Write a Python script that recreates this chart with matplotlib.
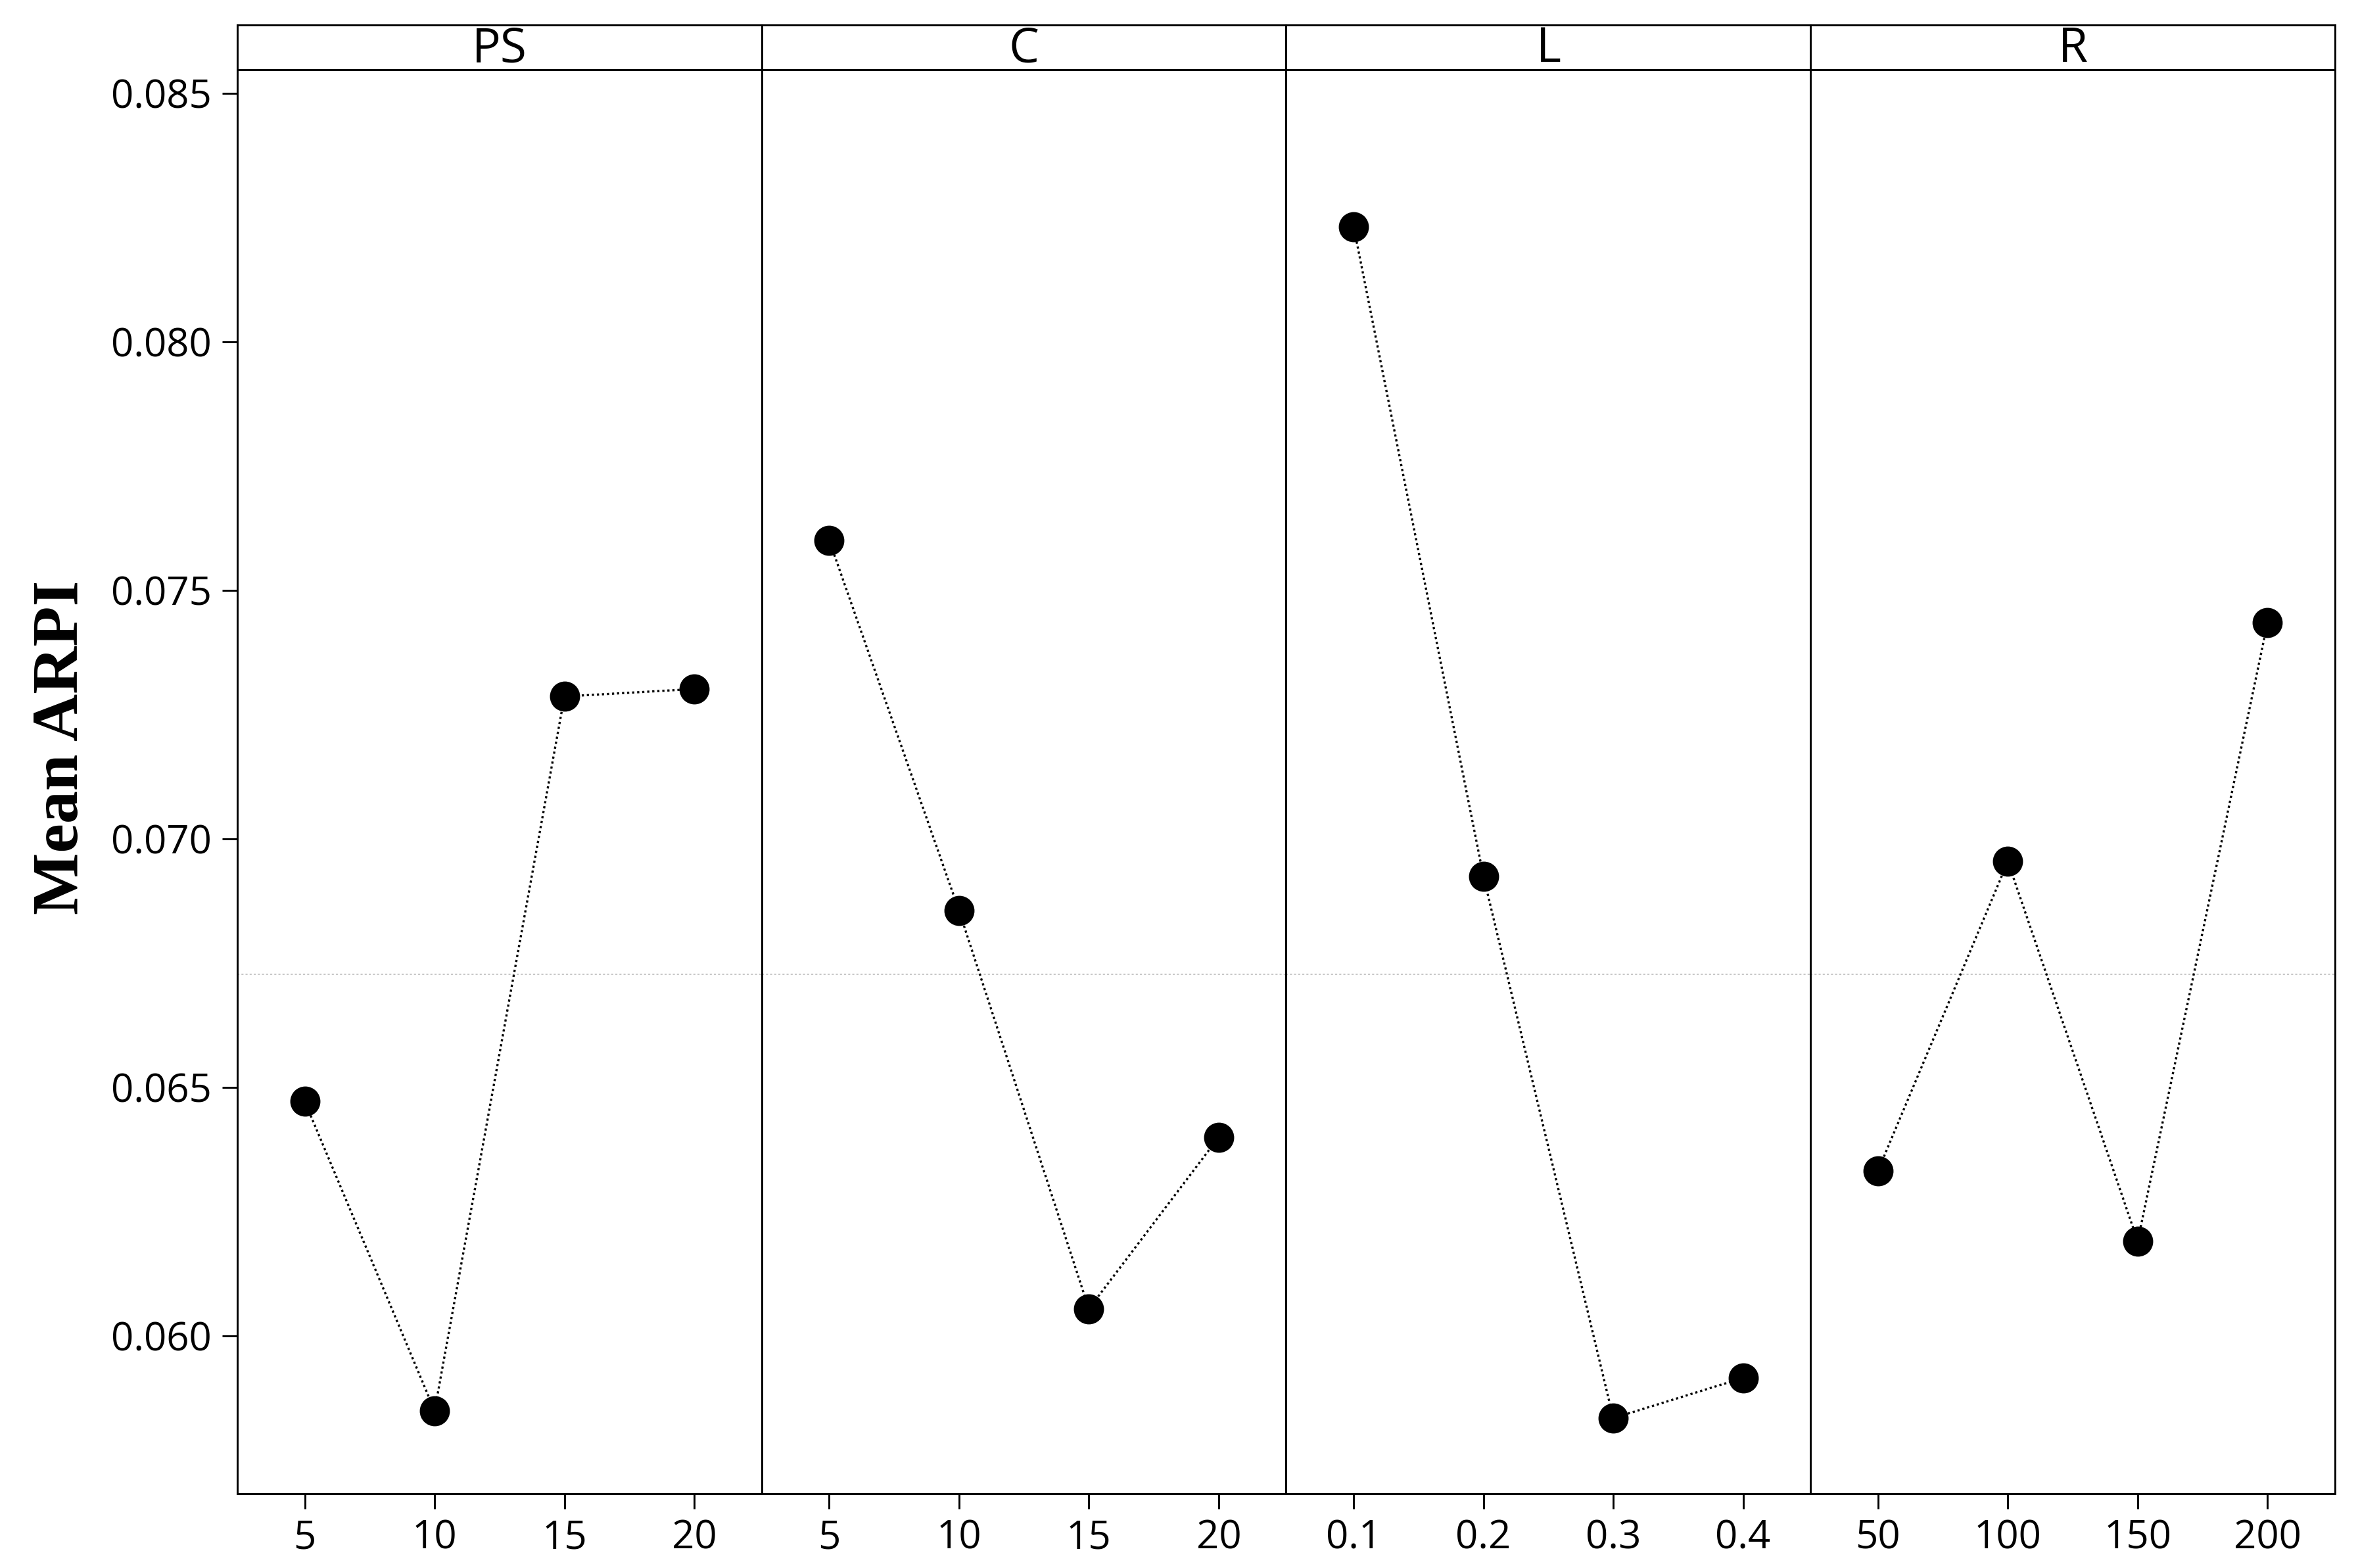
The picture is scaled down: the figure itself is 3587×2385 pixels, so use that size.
import matplotlib
matplotlib.use("Agg")
import matplotlib.pyplot as plt

# ---- data ----
factors = ["PS", "C", "L", "R"]
levels_PS = ["5", "10", "15", "20"]
levels_C = ["5", "10", "15", "20"]
levels_L = ["0.1", "0.2", "0.3", "0.4"]
levels_R = ["50", "100", "150", "200"]
means_PS = [0.06471, 0.05849, 0.07286, 0.07301]
means_C = [0.07600, 0.06855, 0.06054, 0.06399]
means_L = [0.08231, 0.06924, 0.05834, 0.05915]
means_R = [0.06332, 0.06954, 0.06190, 0.07434]
grand_mean = 0.06727
y_ticks = [0.060, 0.065, 0.070, 0.075, 0.080, 0.085]
y_tick_labels = ["0.060", "0.065", "0.070", "0.075", "0.080", "0.085"]

levels = [levels_PS, levels_C, levels_L, levels_R]
means = [means_PS, means_C, means_L, means_R]

W, H = 3587, 2385
DPI = 300
fig = plt.figure(figsize=(W / DPI, H / DPI), dpi=DPI)
fig.patch.set_facecolor("white")

TICK_FONT = "Open Sans"
left_px, right_px = 361, 3552
bottom_px, top_px = 2272, 106
strip_top_px = 38
pw = (right_px - left_px) / 4

spine_lw = 0.7
for i, (fac, lv, mv) in enumerate(zip(factors, levels, means)):
    x0 = left_px + i * pw
    ax = fig.add_axes([x0 / W, 1 - bottom_px / H, pw / W, (bottom_px - top_px) / H])
    xs = list(range(len(lv)))
    ax.axhline(grand_mean, color="#c8c8c8", lw=0.5, ls=(0, (1.5, 1.5)), zorder=1)
    ax.plot(xs, mv, color="black", lw=0.8, ls=(0, (1, 1.3)), zorder=2)
    ax.plot(xs, mv, ls="none", marker="o", ms=10, color="black", zorder=3)
    ax.set_xlim(-0.52, 3.52)
    ax.set_ylim(0.05682, 0.08547)
    ax.set_xticks(xs)
    ax.set_xticklabels(lv, fontsize=14.4, family=TICK_FONT)
    ax.tick_params(axis="x", direction="out", length=5.6, width=0.7, pad=3.5)
    if i == 0:
        ax.set_yticks(y_ticks)
        ax.set_yticklabels(y_tick_labels, fontsize=14.4, family=TICK_FONT)
        ax.tick_params(axis="y", direction="out", length=5.6, width=0.7, pad=3.8)
    else:
        ax.set_yticks([])
    for s in ax.spines.values():
        s.set_linewidth(spine_lw)
        s.set_color("black")

    # strip
    sax = fig.add_axes([x0 / W, 1 - top_px / H, pw / W, (top_px - strip_top_px) / H])
    sax.set_xticks([])
    sax.set_yticks([])
    for s in sax.spines.values():
        s.set_linewidth(spine_lw)
        s.set_color("black")
    sax.text(0.5, 0.45, fac, ha="center", va="center", fontsize=17.5,
             family=TICK_FONT, transform=sax.transAxes)

fig.text(94 / W, 1 - 1137 / H, "Mean ARPI", rotation=90, ha="center", va="center",
         fontsize=24, fontweight="bold", family="Liberation Serif")

fig.savefig("out.png", dpi=DPI, facecolor="white")
